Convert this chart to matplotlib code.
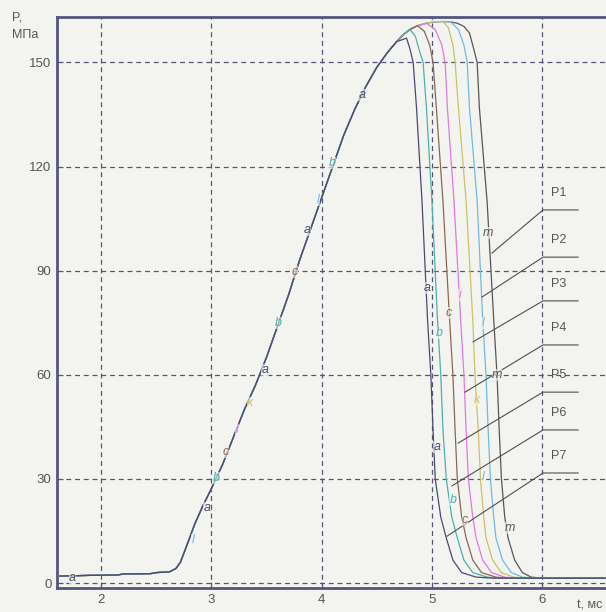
import numpy as np
import matplotlib
matplotlib.use("Agg")
import matplotlib.pyplot as plt

# ---------------- data ----------------
# common rising part of the pressure curve (t, ms ; P, MPa)
rise_t = [1.62, 1.90, 2.15, 2.20, 2.45, 2.50, 2.62, 2.68, 2.72, 2.78, 2.85, 2.92, 2.99,
          3.10, 3.20, 3.30, 3.40, 3.50, 3.60, 3.70, 3.80, 3.90, 4.00, 4.10, 4.20, 4.30,
          4.40, 4.50, 4.60, 4.68]
rise_p = [2.0, 2.2, 2.3, 2.6, 2.7, 3.0, 3.2, 4.2, 6.0, 11.0, 17.0, 22.0, 26.5,
          34.0, 42.0, 50.0, 57.0, 65.0, 74.0, 83.0, 93.0, 102.0, 111.0, 120.0, 129.0, 136.5,
          143.0, 148.6, 153.0, 156.0]
# common top envelope
env_t = [4.74, 4.80, 4.87, 4.95, 5.02, 5.10, 5.17, 5.23, 5.29, 5.34]
env_p = [158.0, 159.5, 160.6, 161.3, 161.7, 161.8, 161.7, 161.3, 160.4, 158.5]

# individual falling branches (branch start time on envelope, then points)
names = ["a", "b", "c", "i", "k", "l", "m"]
branch_t = {"a": 4.70, "b": 4.80, "c": 4.87, "i": 4.95, "k": 5.10, "l": 5.17, "m": 5.34}
fall_t = {
    "a": [4.77, 4.80, 4.83, 4.86, 4.91, 4.96, 4.99, 5.01, 5.03, 5.08, 5.13, 5.19, 5.27, 5.40, 5.55, 6.58],
    "b": [4.85, 4.89, 4.92, 4.95, 5.00, 5.05, 5.08, 5.10, 5.13, 5.18, 5.23, 5.29, 5.37, 5.50, 5.62, 6.58],
    "c": [4.93, 4.98, 5.01, 5.04, 5.10, 5.16, 5.19, 5.21, 5.23, 5.27, 5.31, 5.37, 5.45, 5.58, 5.70, 6.58],
    "i": [5.03, 5.09, 5.12, 5.14, 5.20, 5.26, 5.29, 5.31, 5.33, 5.37, 5.40, 5.46, 5.54, 5.66, 5.78, 6.58],
    "k": [5.15, 5.19, 5.21, 5.24, 5.31, 5.37, 5.39, 5.42, 5.44, 5.47, 5.49, 5.55, 5.63, 5.74, 5.85, 6.58],
    "l": [5.24, 5.29, 5.32, 5.34, 5.41, 5.46, 5.49, 5.51, 5.53, 5.56, 5.58, 5.64, 5.72, 5.82, 5.92, 6.58],
    "m": [5.37, 5.39, 5.41, 5.43, 5.50, 5.56, 5.59, 5.61, 5.63, 5.66, 5.69, 5.75, 5.82, 5.90, 6.00, 6.58],
}
fall_p = {
    "a": [157.0, 154.0, 150.0, 137.0, 110.0, 76.0, 60.0, 44.0, 30.0, 19.0, 13.0, 6.6, 3.0, 1.7, 1.4, 1.4],
    "b": [157.5, 153.0, 150.0, 137.0, 110.0, 76.0, 60.0, 44.0, 30.0, 19.0, 13.0, 6.6, 3.0, 1.7, 1.4, 1.4],
    "c": [159.0, 155.0, 150.0, 137.0, 110.0, 76.0, 60.0, 44.0, 30.0, 19.0, 13.0, 6.6, 3.0, 1.7, 1.4, 1.4],
    "i": [159.5, 155.0, 150.0, 137.0, 110.0, 76.0, 60.0, 44.0, 30.0, 19.0, 13.0, 6.6, 3.0, 1.7, 1.4, 1.4],
    "k": [160.0, 155.0, 150.0, 137.0, 110.0, 76.0, 60.0, 44.0, 30.0, 19.0, 13.0, 6.6, 3.0, 1.7, 1.4, 1.4],
    "l": [159.5, 155.0, 150.0, 137.0, 110.0, 76.0, 60.0, 44.0, 30.0, 19.0, 13.0, 6.6, 3.0, 1.7, 1.4, 1.4],
    "m": [155.0, 152.5, 150.0, 137.0, 110.0, 76.0, 60.0, 44.0, 30.0, 19.0, 13.0, 6.6, 3.0, 1.7, 1.4, 1.4],
}
colors = {"a": "#4a4a72", "b": "#4db0ac", "c": "#8a6656", "i": "#e278e0",
          "k": "#c9c266", "l": "#72b8e2", "m": "#575757"}

# series legend labels P1..P7 and where their leader lines end on the curves
series_labels = ["P1", "P2", "P3", "P4", "P5", "P6", "P7"]
leader_end_t = [5.545, 5.454, 5.373, 5.300, 5.237, 5.182, 5.137]
leader_end_p = [95.1, 82.4, 69.5, 55.0, 40.3, 28.0, 13.5]
leader_level = [107.5, 93.9, 81.3, 68.6, 55.0, 44.1, 31.7]

# letter marks placed along the curves (letter, curve, t, P)
letter_marks = [
    ("a", "a", 1.74, 1.5), ("l", "l", 2.834, 12.4), ("a", "a", 2.96, 21.6),
    ("b", "b", 3.043, 30.3), ("c", "c", 3.133, 37.8), ("i", "i", 3.233, 44.1),
    ("k", "k", 3.351, 51.9), ("a", "a", 3.487, 61.4), ("b", "b", 3.605, 74.9),
    ("c", "c", 3.759, 89.6), ("a", "a", 3.868, 101.7), ("l", "l", 3.967, 110.4),
    ("b", "b", 4.094, 121.0), ("a", "a", 4.366, 140.6),
    ("a", "a", 4.956, 85.0), ("c", "c", 5.155, 77.8), ("b", "b", 5.064, 72.0),
    ("i", "i", 5.255, 83.0), ("l", "l", 5.463, 74.9), ("m", "m", 5.509, 100.9),
    ("m", "m", 5.590, 59.9), ("k", "k", 5.409, 52.7), ("a", "a", 5.046, 39.2),
    ("b", "b", 5.191, 23.9), ("c", "c", 5.300, 18.2), ("m", "m", 5.708, 15.9),
    ("l", "l", 5.463, 30.5),
]

x_ticks = [2, 3, 4, 5, 6]
y_ticks = [0, 30, 60, 90, 120, 150]

# ---------------- figure ----------------
plt.rcParams['font.family'] = ['Liberation Sans', 'DejaVu Sans']
bg = "#f3f4ef"
fig = plt.figure(figsize=(6.06, 6.12), dpi=100, facecolor=bg)
ax = fig.add_axes([57 / 606, 24 / 612, 1 - 57 / 606, (588 - 17) / 612])
ax.set_facecolor(bg)

ax.set_xlim(1.601, 6.578)
ax.set_ylim(-1.44, 163.1)

ax.grid(True, color="#55557a", linestyle=(0, (4, 3)), linewidth=0.9)
ax.set_axisbelow(True)
ax.set_xticks(x_ticks)
ax.set_yticks(y_ticks)
ax.tick_params(direction="in", length=4, width=0.8, colors="#55557a",
               labelcolor="#555555", labelsize=9.5, pad=4)

for s in ["left", "top", "bottom"]:
    ax.spines[s].set_color("#55557f")
    ax.spines[s].set_linewidth(2.0)
ax.spines["right"].set_visible(False)

rt = np.array(rise_t)
rp = np.array(rise_p)
et = np.array(env_t)
ep = np.array(env_p)
for n in reversed(names):
    sel = et <= branch_t[n]
    t = np.concatenate([rt, et[sel], fall_t[n]])
    p = np.concatenate([rp, ep[sel], fall_p[n]])
    ax.plot(t, p, color=colors[n], linewidth=0.9, zorder=3)

# leader lines and labels
for lab, t_end, p_end, lev in zip(series_labels, leader_end_t, leader_end_p, leader_level):
    ax.plot([t_end, 6.007, 6.325], [p_end, lev, lev], color="#4f4f4f",
            linewidth=0.8, zorder=4, clip_on=False)
    ax.text(6.15, lev + 5.0, lab, ha="center", va="center", fontsize=9,
            color="#555555", zorder=5)

for letter, curve, t, p in letter_marks:
    ax.text(t, p, letter, ha="center", va="center", fontsize=9, style="italic",
            color=colors[curve], zorder=5,
            bbox=dict(boxstyle="square,pad=0.02", facecolor=bg, edgecolor="none", alpha=0.6))

fig.text(12 / 606, 1 - 17 / 612, "P,", fontsize=9, color="#555555", va="center", ha="left")
fig.text(12 / 606, 1 - 35 / 612, "МПа", fontsize=9, color="#555555", va="center", ha="left")
fig.text(577 / 606, 1 - 605 / 612, "t, мс", fontsize=9, color="#555555", va="center", ha="left")

fig.savefig("out.png", dpi=100, facecolor=bg)
